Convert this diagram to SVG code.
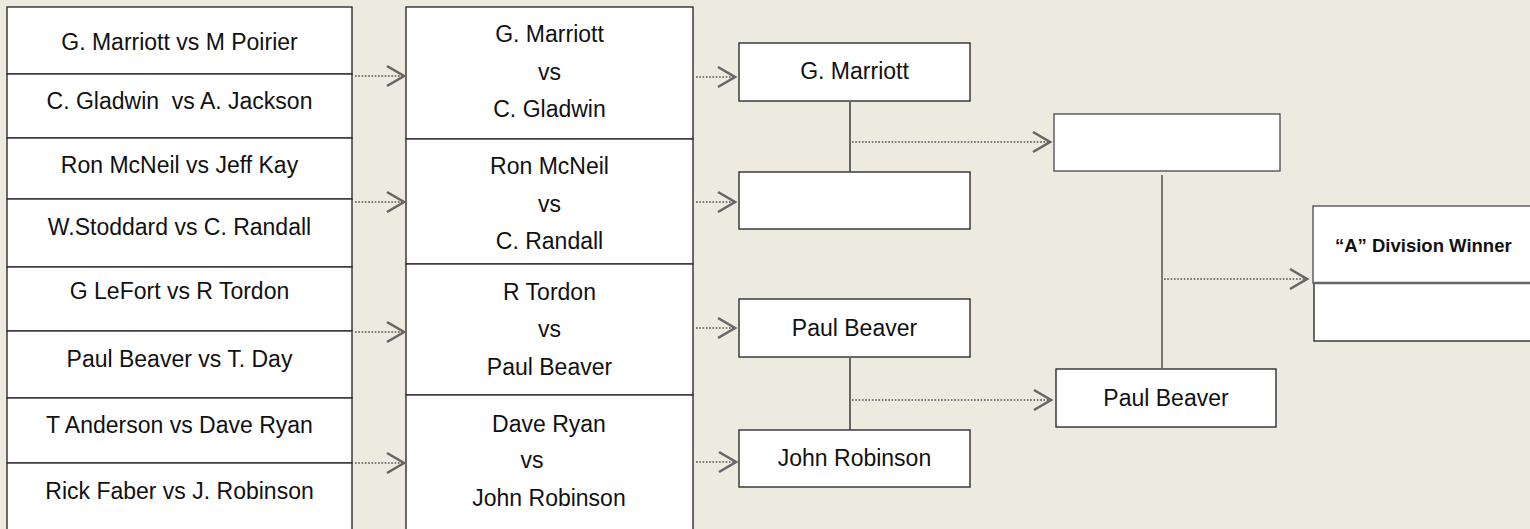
<svg xmlns="http://www.w3.org/2000/svg" width="1530" height="529" viewBox="0 0 1530 529">
<defs>
<marker id="chev" markerUnits="userSpaceOnUse" markerWidth="22" markerHeight="26" viewBox="0 0 22 26" refX="19" refY="13" orient="auto">
<path d="M2,3 L19,13 L2,23" fill="none" stroke="#666" stroke-width="2.6"/>
</marker>
<style>
.box{fill:#fff;stroke:#2e2e2e;stroke-width:1.4}
.t{font-family:"Liberation Sans",Arial,sans-serif;font-size:23px;fill:#111;text-anchor:middle}
.tb{font-family:"Liberation Sans",Arial,sans-serif;font-size:18.5px;font-weight:bold;fill:#111}
.dot{fill:none;stroke:#777;stroke-width:2;stroke-dasharray:1.6 1.7;marker-end:url(#chev)}
.vl{fill:none;stroke:#444;stroke-width:1.6}
</style>
</defs>
<rect width="1530" height="529" fill="#EDEBE0"/>

<g id="r1-1"><rect class="box" x="7" y="7" width="345" height="67"/><text class="t" x="179.5" y="50">G. Marriott vs M Poirier</text></g>
<g id="r1-2"><rect class="box" x="7" y="74" width="345" height="64"/><text class="t" x="179.5" y="109" xml:space="preserve">C. Gladwin  vs A. Jackson</text></g>
<g id="r1-3"><rect class="box" x="7" y="138" width="345" height="61"/><text class="t" x="179.5" y="173">Ron McNeil vs Jeff Kay</text></g>
<g id="r1-4"><rect class="box" x="7" y="199" width="345" height="68"/><text class="t" x="179.5" y="235">W.Stoddard vs C. Randall</text></g>
<g id="r1-5"><rect class="box" x="7" y="267" width="345" height="64"/><text class="t" x="179.5" y="299">G LeFort vs R Tordon</text></g>
<g id="r1-6"><rect class="box" x="7" y="331" width="345" height="67"/><text class="t" x="179.5" y="367">Paul Beaver vs T. Day</text></g>
<g id="r1-7"><rect class="box" x="7" y="398" width="345" height="65"/><text class="t" x="179.5" y="433">T Anderson vs Dave Ryan</text></g>
<g id="r1-8"><rect class="box" x="7" y="463" width="345" height="80"/><text class="t" x="179.5" y="499">Rick Faber vs J. Robinson</text></g>

<g id="r2-1"><rect class="box" x="406" y="7" width="287" height="132"/><text class="t" x="549.5" y="42">G. Marriott</text><text class="t" x="549.5" y="80">vs</text><text class="t" x="549.5" y="117">C. Gladwin</text></g>
<g id="r2-2"><rect class="box" x="406" y="139" width="287" height="125"/><text class="t" x="549.5" y="174">Ron McNeil</text><text class="t" x="549.5" y="212">vs</text><text class="t" x="549.5" y="249">C. Randall</text></g>
<g id="r2-3"><rect class="box" x="406" y="264" width="287" height="131"/><text class="t" x="549.5" y="300">R Tordon</text><text class="t" x="549.5" y="337">vs</text><text class="t" x="549.5" y="375">Paul Beaver</text></g>
<g id="r2-4"><rect class="box" x="406" y="395" width="287" height="150"/><text class="t" x="549" y="432">Dave Ryan</text><text class="t" x="532" y="468">vs</text><text class="t" x="549" y="506">John Robinson</text></g>

<g id="r3-1"><rect class="box" x="739" y="43" width="231" height="58"/><text class="t" x="854.5" y="79">G. Marriott</text></g>
<g id="r3-2"><rect class="box" x="739" y="172" width="231" height="57"/></g>
<g id="r3-3"><rect class="box" x="739" y="299" width="231" height="58"/><text class="t" x="854.5" y="336">Paul Beaver</text></g>
<g id="r3-4"><rect class="box" x="739" y="430" width="231" height="57"/><text class="t" x="854.5" y="466">John Robinson</text></g>

<g id="r4-1"><rect class="box" x="1054" y="114" width="226" height="57" style="stroke:#555"/></g>
<g id="r4-2"><rect class="box" x="1056" y="369" width="220" height="58"/><text class="t" x="1166" y="406">Paul Beaver</text></g>

<g id="winner">
<rect class="box" x="1313" y="206" width="230" height="77" style="stroke:#555"/>
<rect class="box" x="1314" y="283" width="229" height="58"/>
<line x1="1313" y1="283" x2="1530" y2="283" stroke="#666" stroke-width="2.6"/>
<text class="tb" x="1335" y="252">“A” Division Winner</text>
</g>

<g id="connectors">
<line class="dot" x1="355" y1="76" x2="404" y2="76"/>
<line class="dot" x1="355" y1="202" x2="404" y2="202"/>
<line class="dot" x1="355" y1="332" x2="404" y2="332"/>
<line class="dot" x1="355" y1="463" x2="404" y2="463"/>
<line class="dot" x1="696" y1="77" x2="735" y2="77"/>
<line class="dot" x1="696" y1="202" x2="735" y2="202"/>
<line class="dot" x1="696" y1="328" x2="735" y2="328"/>
<line class="dot" x1="696" y1="462" x2="736" y2="462"/>
<line class="vl" x1="850" y1="102" x2="850" y2="172"/>
<line class="dot" x1="852" y1="142" x2="1050" y2="142"/>
<line class="vl" x1="850" y1="358" x2="850" y2="430"/>
<line class="dot" x1="852" y1="400" x2="1051" y2="400"/>
<line class="vl" x1="1162" y1="175" x2="1162" y2="368" style="stroke:#777;stroke-width:2"/>
<line class="dot" x1="1164" y1="279" x2="1307" y2="279"/>
</g>
</svg>
